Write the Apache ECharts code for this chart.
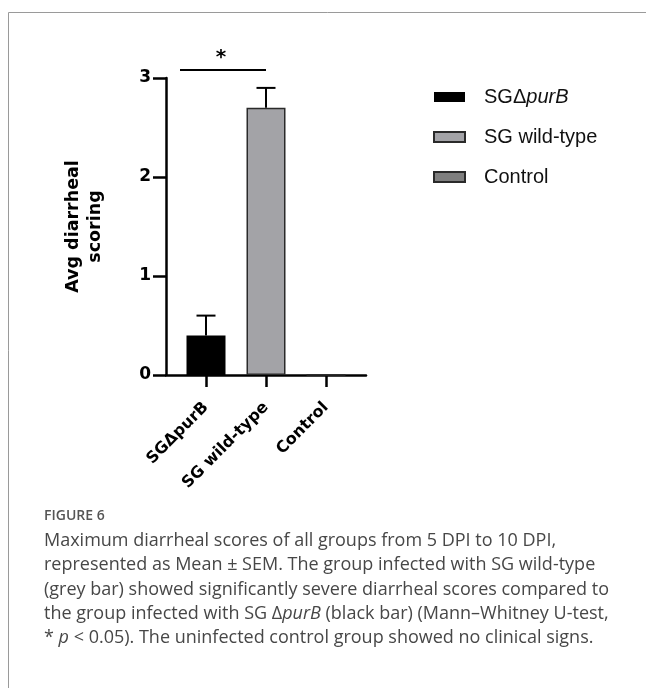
<!DOCTYPE html>
<html><head><meta charset="utf-8">
<script src="https://cdn.jsdelivr.net/npm/echarts@6/dist/echarts.min.js"></script>
<style>html,body{margin:0;padding:0;background:#fff}#c{width:646px;height:688px}</style>
</head><body><div id="c"></div>
<script>
// ---- data ----
const categories = ['SGΔpurB', 'SG wild-type', 'Control'];
const means = [0.4, 2.7, 0];
const sems = [0.2, 0.2, 0];
const yTickValues = [0, 1, 2, 3];
const sigPair = [0, 1];
const sigLevel = 3.08;
const sigMark = '*';
const barColors = ['#000000', '#a3a3a7', '#7f7f7f'];
const captionTitle = 'FIGURE 6';
const captionLines = [
  'Maximum diarrheal scores of all groups from 5 DPI to 10 DPI,',
  'represented as Mean ± SEM. The group infected with SG wild-type',
  '(grey bar) showed significantly severe diarrheal scores compared to',
  'the group infected with SG Δ{i|purB} (black bar) (Mann–Whitney U-test,',
  '* {i|p} < 0.05). The uninfected control group showed no clinical signs.'
];

// ---- chart ----
const chart = echarts.init(document.getElementById('c'), null, {renderer: 'canvas'});
const boldFont = 'DejaVu Sans';

const barSeries = categories.map((name, i) => ({
  name: name,
  type: 'bar',
  xAxisIndex: 0, yAxisIndex: 0,
  barWidth: 39,
  barGap: '-100%',
  data: categories.map((c, j) => (j === i ? means[i] : '-')),
  itemStyle: {
    color: barColors[i],
    borderColor: i === 0 ? '#000' : '#2a2a2a',
    borderWidth: i === 0 ? 0 : 1.5
  },
  z: 2
}));

const errorSeries = {
  type: 'custom',
  xAxisIndex: 0, yAxisIndex: 0,
  clip: false,
  z: 3,
  data: categories.map((c, i) => [i, means[i], means[i] + sems[i]]),
  renderItem: function (params, api) {
    const lo = api.value(1), hi = api.value(2);
    if (hi - lo <= 0) return null;
    const p0 = api.coord([api.value(0), lo]);
    const p1 = api.coord([api.value(0), hi]);
    const st = {stroke: '#000', lineWidth: 2};
    return {
      type: 'group',
      children: [
        {type: 'line', shape: {x1: p0[0], y1: p0[1], x2: p1[0], y2: p1[1]}, style: st},
        {type: 'line', shape: {x1: p1[0] - 9.5, y1: p1[1], x2: p1[0] + 9.5, y2: p1[1]}, style: st}
      ]
    };
  },
  silent: true
};

const sigSeries = {
  type: 'custom',
  xAxisIndex: 0, yAxisIndex: 0,
  clip: false,
  z: 3,
  data: [[sigPair[0], sigPair[1], sigLevel]],
  renderItem: function (params, api) {
    const a = api.coord([api.value(0), api.value(2)]);
    const b = api.coord([api.value(1), api.value(2)]);
    const x1 = a[0] - 26, x2 = b[0];
    return {
      type: 'group',
      children: [
        {type: 'line', shape: {x1: x1, y1: a[1], x2: x2, y2: a[1]}, style: {stroke: '#000', lineWidth: 2}},
        {type: 'text', style: {x: (x1 + x2) / 2 - 2, y: a[1] - 12, text: sigMark, fill: '#000',
          font: 'bold 20px "DejaVu Sans"', align: 'center', verticalAlign: 'middle'}}
      ]
    };
  },
  silent: true
};

const graphics = [
  {type: 'line', shape: {x1: 8.5, y1: 12.5, x2: 646, y2: 12.5}, style: {stroke: '#9a9a9a', lineWidth: 1}},
  {type: 'line', shape: {x1: 8.5, y1: 12.5, x2: 8.5, y2: 688}, style: {stroke: '#9a9a9a', lineWidth: 1}},
  {type: 'text', x: 44, y: 516, style: {text: captionTitle, fill: '#555',
    font: '600 14px "Open Sans"', verticalAlign: 'middle'}}
];
captionLines.forEach((t, k) => {
  graphics.push({type: 'text', x: 44, y: 541 + k * 24.3, style: {
    text: t, fill: '#474747', font: '18px "Open Sans"', verticalAlign: 'middle',
    rich: {i: {fontStyle: 'italic', fontFamily: 'Open Sans', fontSize: 18, fill: '#474747', verticalAlign: 'middle'}}
  }});
});

const option = {
  backgroundColor: '#fff',
  animation: false,
  grid: [
    {left: 176, right: 290, top: 78, bottom: 313},
    {left: 166, right: 280, top: 78, bottom: 313}
  ],
  xAxis: [
    {
      type: 'category', gridIndex: 0, data: categories, boundaryGap: true,
      axisLine: {show: false},
      axisTick: {show: true, alignWithLabel: true, length: 12, lineStyle: {color: '#000', width: 2.5}},
      axisLabel: {rotate: 45, interval: 0, margin: 30, color: '#000',
        fontFamily: boldFont, fontWeight: 'bold', fontSize: 16},
      splitLine: {show: false}
    },
    {
      type: 'value', gridIndex: 1, min: 0, max: 1,
      axisLine: {show: true, onZero: false, lineStyle: {color: '#000', width: 2.5}},
      axisTick: {show: false}, axisLabel: {show: false}, splitLine: {show: false}
    }
  ],
  yAxis: [
    {type: 'value', gridIndex: 0, min: 0, max: 3, show: false, splitLine: {show: false}},
    {
      type: 'value', gridIndex: 1, min: yTickValues[0], max: yTickValues[yTickValues.length - 1], interval: 1,
      axisLine: {show: true, lineStyle: {color: '#000', width: 2.5}},
      axisTick: {show: true, length: 13, lineStyle: {color: '#000', width: 2.5}},
      axisLabel: {margin: 15, color: '#000', fontFamily: boldFont, fontWeight: 'bold', fontSize: 17},
      splitLine: {show: false},
      name: 'Avg diarrheal\nscoring',
      nameLocation: 'middle',
      nameGap: 60,
      nameTextStyle: {fontFamily: boldFont, fontWeight: 'bold', fontSize: 17.5, color: '#000', lineHeight: 22, align: 'center'}
    }
  ],
  legend: {
    orient: 'vertical', left: 428, top: 82,
    itemWidth: 31, itemHeight: 10, itemGap: 20,
    icon: 'rect',
    data: categories,
    formatter: function (name) { return name === 'SGΔpurB' ? 'SGΔ{i|purB}' : name; },
    textStyle: {fontFamily: 'Liberation Sans', fontSize: 20, color: '#111', padding: [0, 0, 0, 14],
      rich: {i: {fontFamily: 'Liberation Sans', fontStyle: 'italic', fontSize: 20, color: '#111'}}},
    selectedMode: false
  },
  series: barSeries.concat([errorSeries, sigSeries]),
  graphic: graphics
};
chart.setOption(option);
</script>
</body></html>
